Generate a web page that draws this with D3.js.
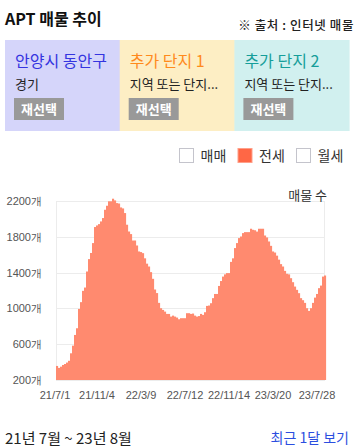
<!DOCTYPE html>
<html>
<head>
<meta charset="utf-8">
<script src="https://cdn.jsdelivr.net/npm/d3@7"></script>
<style>
  body { margin: 0; background: #fff; }
  svg { display: block; font-family: "Noto Sans CJK KR", "Noto Sans", sans-serif; }
</style>
</head>
<body>
<div id="chart"></div>
<script>
var W = 358, H = 447;

// 전세 매물 수 (21/7/1 ~ 23/8)
var values = [
  352, 330, 344, 363, 374, 390, 410, 494, 580, 700,
  775, 992, 1068, 1195, 1232, 1412, 1551, 1620, 1731, 1911,
  1929, 1944, 1974, 2012, 2105, 2150, 2200, 2200, 2229, 2210,
  2180, 2175, 2131, 2120, 2068, 1937, 1861, 1832, 1760, 1760,
  1704, 1637, 1630, 1618, 1560, 1500, 1468, 1405, 1330, 1210,
  1170, 1060, 1000, 981, 962, 936, 936, 906, 917, 906,
  895, 876, 888, 888, 888, 944, 944, 936, 940, 917,
  906, 912, 936, 925, 955, 1026, 1030, 1056, 1113, 1160,
  1160, 1250, 1305, 1355, 1380, 1394, 1394, 1520, 1560, 1675,
  1731, 1787, 1805, 1843, 1854, 1854, 1854, 1892, 1880, 1875,
  1860, 1892, 1892, 1892, 1816, 1794, 1749, 1700, 1637, 1625,
  1590, 1545, 1495, 1468, 1419, 1386, 1380, 1337, 1292, 1243,
  1206, 1169, 1113, 1090, 1060, 1000, 970, 1000, 1060, 1119,
  1160, 1225, 1254, 1355, 1367
];
var tickLabels = ["21/7/1", "21/11/4", "22/3/9", "22/7/12", "22/11/14", "23/3/20", "23/7/28"];
var tickIndex = [0, 21, 43, 65, 87, 109, 131];
var yTicks = [200, 600, 1000, 1400, 1800, 2200];

var regions = [
  { name: "안양시 동안구", sub: "경기", color: "#3434e0", bg: "#d5d5fa" },
  { name: "추가 단지 1", sub: "지역 또는 단지...", color: "#ff8a1c", bg: "#fdeec4" },
  { name: "추가 단지 2", sub: "지역 또는 단지...", color: "#169e9a", bg: "#d1f0ef" }
];
var legendItems = [
  { label: "매매", on: false },
  { label: "전세", on: true },
  { label: "월세", on: false }
];

var svg = d3.select("#chart").append("svg")
    .attr("width", W)
    .attr("height", H);

// header
svg.append("text")
    .attr("x", 5).attr("y", 25)
    .attr("font-size", 16).attr("font-weight", "bold")
    .attr("fill", "#111")
    .text("APT 매물 추이");

svg.append("text")
    .attr("x", 354).attr("y", 30)
    .attr("text-anchor", "end")
    .attr("font-size", 12.5).attr("font-weight", 500)
    .attr("letter-spacing", 0.6)
    .attr("fill", "#222")
    .text("※ 출처 : 인터넷 매물");

// region boxes
var boxW = 114.7;
var box = svg.selectAll("g.region")
    .data(regions)
  .enter().append("g")
    .attr("class", "region")
    .attr("transform", function(d, i) { return "translate(" + (5 + i * boxW) + ",40)"; });

box.append("rect")
    .attr("width", boxW + 0.5).attr("height", 91)
    .attr("fill", function(d) { return d.bg; });

box.append("text")
    .attr("x", 10).attr("y", 27)
    .attr("font-size", 16)
    .attr("fill", function(d) { return d.color; })
    .text(function(d) { return d.name; });

box.append("text")
    .attr("x", 10).attr("y", 49)
    .attr("font-size", 13).attr("fill", "#222")
    .text(function(d) { return d.sub; });

box.append("rect")
    .attr("x", 9).attr("y", 58)
    .attr("width", 50).attr("height", 22)
    .attr("fill", "#999");

box.append("text")
    .attr("x", 34).attr("y", 74)
    .attr("text-anchor", "middle")
    .attr("font-size", 13).attr("font-weight", "bold")
    .attr("fill", "#fff")
    .text("재선택");

// legend
var leg = svg.selectAll("g.legend")
    .data(legendItems)
  .enter().append("g")
    .attr("class", "legend")
    .attr("transform", function(d, i) { return "translate(" + (179.5 + i * 58.5) + ",148.5)"; });

leg.append("rect")
    .attr("width", 14).attr("height", 14)
    .attr("fill", function(d) { return d.on ? "#ff6745" : "#fff"; })
    .attr("stroke", function(d) { return d.on ? "#ffa08a" : "#c4c4cc"; })
    .attr("stroke-width", 1);

leg.append("text")
    .attr("x", 21).attr("y", 12.5)
    .attr("font-size", 14).attr("fill", "#333")
    .text(function(d) { return d.label; });

// chart
var plot = { left: 56, right: 326, top: 201.3, bottom: 379.5 };

var x = d3.scaleBand()
    .domain(d3.range(values.length))
    .range([plot.left, plot.left + values.length * 2])
    .paddingInner(0);

var y = d3.scaleLinear()
    .domain([200, 2200])
    .range([plot.bottom, plot.top]);

var grid = svg.append("g");
grid.selectAll("line.h")
    .data(yTicks)
  .enter().append("line")
    .attr("x1", plot.left).attr("x2", plot.right - 1)
    .attr("y1", function(d) { return Math.round(y(d)) + 0.5; })
    .attr("y2", function(d) { return Math.round(y(d)) + 0.5; })
    .attr("stroke", "#ececec");
grid.selectAll("line.v")
    .data([plot.left + 0.5, plot.right - 1.5])
  .enter().append("line")
    .attr("x1", function(d) { return d; }).attr("x2", function(d) { return d; })
    .attr("y1", y(2200)).attr("y2", plot.bottom)
    .attr("stroke", "#ececec");

svg.append("g").selectAll("rect")
    .data(values)
  .enter().append("rect")
    .attr("x", function(d, i) { return x(i); })
    .attr("width", x.bandwidth() + 0.1)
    .attr("y", function(d) { return y(d); })
    .attr("height", function(d) { return y(200) - y(d) + 0.5; })
    .attr("fill", "#ff8a6f");

var yAxis = d3.axisLeft(y)
    .tickValues(yTicks)
    .tickSize(0)
    .tickPadding(0)
    .tickFormat(function(d) { return d + "개"; });

svg.append("g")
    .attr("transform", "translate(42,0)")
    .call(yAxis)
    .call(function(g) { g.select(".domain").remove(); })
    .selectAll("text")
    .attr("font-family", "inherit")
    .attr("font-size", 11)
    .attr("fill", "#555");

var xAxis = d3.axisBottom(x)
    .tickValues(tickIndex)
    .tickSize(0)
    .tickPadding(0)
    .tickFormat(function(d, i) { return tickLabels[i]; });

svg.append("g")
    .attr("transform", "translate(-2,391)")
    .call(xAxis)
    .call(function(g) { g.select(".domain").remove(); })
    .selectAll("text")
    .attr("font-family", "inherit")
    .attr("font-size", 11)
    .attr("fill", "#555");

svg.append("text")
    .attr("x", 327).attr("y", 200)
    .attr("text-anchor", "end")
    .attr("font-size", 13).attr("fill", "#333")
    .text("매물 수");

// footer
svg.append("text")
    .attr("x", 5).attr("y", 444)
    .attr("font-size", 15).attr("fill", "#222")
    .text("21년 7월 ~ 23년 8월");

svg.append("text")
    .attr("x", 349).attr("y", 443)
    .attr("text-anchor", "end")
    .attr("font-size", 14).attr("fill", "#2b4ee0")
    .text("최근 1달 보기");
</script>
</body>
</html>
